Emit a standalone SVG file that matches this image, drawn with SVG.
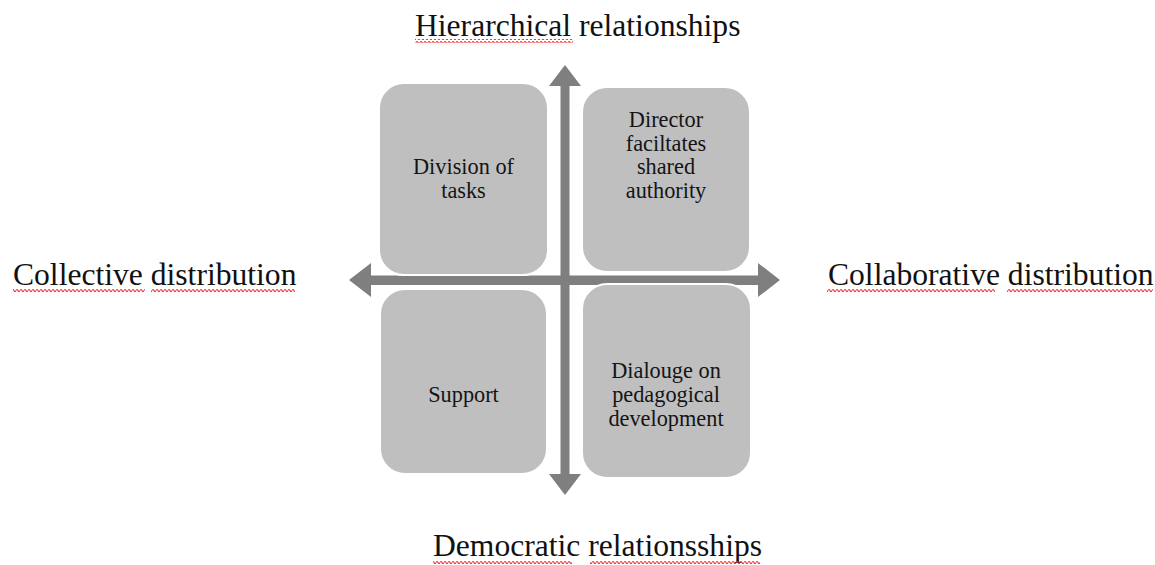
<svg xmlns="http://www.w3.org/2000/svg" width="1155" height="565" viewBox="0 0 1155 565">
<style>
.box{fill:#bfbfbf;stroke:#ffffff;stroke-width:2}
.arrow{fill:#7f7f7f}
.bt{font-family:"Liberation Serif","Times New Roman",serif;font-size:22.3px;fill:#141414;text-anchor:middle}
.lab{font-family:"Liberation Serif","Times New Roman",serif;font-size:31.6px;fill:#111111}
</style>
<defs>
<pattern id="wave" patternUnits="userSpaceOnUse" width="4" height="4">
<path d="M0,2.6 Q1,0.4 2,2.6 T4,2.6" fill="none" stroke="#ff3030" stroke-width="1.1"/>
</pattern>
</defs>
<rect width="1155" height="565" fill="#ffffff"/>
<g id="connectors">
<polygon class="arrow" points="565,65 581,86 569.5,86 569.5,474 581,474 565,495 549,474 560.5,474 560.5,86 549,86"/>
<polygon class="arrow" points="349,280 371,263 371,275.5 758,275.5 758,263 780,280 758,297 758,285 371,285 371,297"/>
</g>
<g id="node-division">
<rect class="box" x="379" y="83" width="169" height="192" rx="25"/>
<text class="bt" x="463.5" y="174">Division of</text>
<text class="bt" x="463.5" y="198">tasks</text>
</g>
<g id="node-director">
<rect class="box" x="582" y="87" width="168" height="185" rx="25"/>
<text class="bt" x="666" y="127">Director</text>
<text class="bt" x="666" y="150.5">faciltates</text>
<text class="bt" x="666" y="174">shared</text>
<text class="bt" x="666" y="197.5">authority</text>
</g>
<g id="node-support">
<rect class="box" x="380" y="289" width="167" height="185" rx="25"/>
<text class="bt" x="463.5" y="402">Support</text>
</g>
<g id="node-dialouge">
<rect class="box" x="582" y="284" width="169" height="194" rx="25"/>
<text class="bt" x="666" y="378">Dialouge on</text>
<text class="bt" x="666" y="402">pedagogical</text>
<text class="bt" x="666" y="426">development</text>
</g>
<g id="label-top">
<text class="lab" x="415" y="36">Hierarchical relationships</text>
<rect x="415" y="39" width="158" height="4" fill="url(#wave)"/>
</g>
<g id="label-left">
<text class="lab" x="13" y="285">Collective distribution</text>
<rect x="13" y="288" width="132" height="4" fill="url(#wave)"/>
<rect x="151" y="288" width="144" height="4" fill="url(#wave)"/>
</g>
<g id="label-right">
<text class="lab" x="828" y="285">Collaborative distribution</text>
<rect x="827" y="288" width="168" height="4" fill="url(#wave)"/>
<rect x="1007" y="288" width="146" height="4" fill="url(#wave)"/>
</g>
<g id="label-bottom">
<text class="lab" x="433" y="556">Democratic relationsships</text>
<rect x="433" y="560" width="139" height="4" fill="url(#wave)"/>
<rect x="590" y="560" width="170" height="4" fill="url(#wave)"/>
</g>
</svg>
